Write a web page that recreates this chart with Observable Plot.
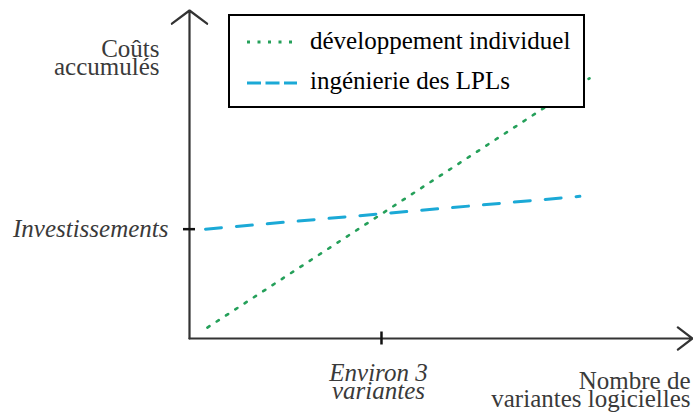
<!DOCTYPE html>
<html><head><meta charset="utf-8">
<script src="https://cdn.jsdelivr.net/npm/d3@7"></script>
<script src="https://cdn.jsdelivr.net/npm/@observablehq/plot@0.6"></script>
<style>
body{margin:0;background:#fff;}
#wrap{position:relative;width:693px;height:412px;font-family:"Liberation Serif",serif;}
#wrap svg{display:block;}
#legend{position:absolute;left:228px;top:14px;width:357px;height:94px;box-sizing:border-box;border:2px solid #000;background:#fff;}
#legend svg{position:absolute;left:-2px;top:-2px;overflow:visible;}
</style></head><body><div id="wrap"></div>
<script>
// data
const seriesNames = ["développement individuel", "ingénierie des LPLs"];
const devX = [0.28, 6.25];
const devY = [1.0, 23.8];
const lplX = [0.25, 6.1];
const lplY = [10, 13];
const xTicks = [3];
const xTickLabels = ["Environ 3\nvariantes"];
const yTicks = [10];
const yTickLabels = ["Investissements"];
const xTitle = "Nombre de\nvariantes logicielles";
const yTitle = "Coûts\naccumulés";
const xMax = 7.86, yMax = 30;

const green = "#25a05a", blue = "#1ba9d6", axisColor = "#333", textColor = "#3a3a3a";
const fs = 25;

const devRows = devX.map((x, i) => ({x, y: devY[i]}));
const lplRows = lplX.map((x, i) => ({x, y: lplY[i]}));

const chart = Plot.plot({
  width: 693, height: 412,
  marginLeft: 189, marginRight: 1, marginTop: 10, marginBottom: 74,
  style: {fontFamily: '"Liberation Serif", serif', background: "#fff"},
  x: {domain: [0, xMax], axis: null},
  y: {domain: [0, yMax], axis: null},
  marks: [
    Plot.line(devRows, {x: "x", y: "y", stroke: green, strokeWidth: 2.6, strokeDasharray: "2.5,8.6"}),
    Plot.line(lplRows, {x: "x", y: "y", stroke: blue, strokeWidth: 3, strokeDasharray: "16,15"}),
    Plot.arrow([{x1: 0, y1: 0, x2: 0, y2: yMax}], {x1: "x1", y1: "y1", x2: "x2", y2: "y2", stroke: axisColor, strokeWidth: 2.2, headAngle: 106, headLength: 15}),
    Plot.arrow([{x1: 0, y1: 0, x2: xMax, y2: 0}], {x1: "x1", y1: "y1", x2: "x2", y2: "y2", stroke: axisColor, strokeWidth: 2.2, headAngle: 74, headLength: 12.5}),
    Plot.ruleX(xTicks, {x: d => d, y1: 0, y2: 0, insetTop: -6.5, insetBottom: -6.5, stroke: "#111", strokeWidth: 2.5}),
    Plot.ruleY(yTicks, {y: d => d, x1: 0, x2: 0, insetLeft: -6, insetRight: -6, stroke: "#111", strokeWidth: 2.5}),
    Plot.text(xTicks, {x: d => d, y: 0, text: (d, i) => xTickLabels[i], lineAnchor: "top", dy: 28.9, dx: -3, lineHeight: 0.75, fontSize: fs, fontStyle: "italic", fill: textColor}),
    Plot.text(yTicks, {x: 0, y: d => d, text: (d, i) => yTickLabels[i], textAnchor: "end", dx: -21, fontSize: fs, fontStyle: "italic", fill: textColor}),
    Plot.text([yTitle], {frameAnchor: "top-left", textAnchor: "end", lineAnchor: "top", dx: -30, dy: 32.5, lineHeight: 0.76, fontSize: fs, fill: textColor}),
    Plot.text([xTitle], {frameAnchor: "bottom-right", textAnchor: "end", lineAnchor: "top", dx: -2, dy: 36.5, lineHeight: 0.76, fontSize: fs, fill: textColor})
  ]
});

const wrap = document.getElementById("wrap");
wrap.appendChild(chart);

// legend overlay
const legend = document.createElement("div");
legend.id = "legend";
const ns = "http://www.w3.org/2000/svg";
const lsvg = document.createElementNS(ns, "svg");
lsvg.setAttribute("width", 357); lsvg.setAttribute("height", 94);
const items = [
  {name: seriesNames[0], color: green, dash: "3,7.5", w: 2.8, x2: 64, y: 28, ty: 35},
  {name: seriesNames[1], color: blue, dash: "14,4.5", w: 3, x2: 69, y: 69, ty: 75}
];
for (const it of items) {
  const l = document.createElementNS(ns, "line");
  l.setAttribute("x1", 19); l.setAttribute("x2", it.x2);
  l.setAttribute("y1", it.y); l.setAttribute("y2", it.y);
  l.setAttribute("stroke", it.color); l.setAttribute("stroke-width", it.w);
  l.setAttribute("stroke-dasharray", it.dash);
  lsvg.appendChild(l);
  const t = document.createElementNS(ns, "text");
  t.setAttribute("x", 82); t.setAttribute("y", it.ty);
  t.setAttribute("font-size", fs); t.setAttribute("fill", "#000");
  t.setAttribute("font-family", '"Liberation Serif", serif');
  t.textContent = it.name;
  lsvg.appendChild(t);
}
legend.appendChild(lsvg);
wrap.appendChild(legend);
</script></body></html>
